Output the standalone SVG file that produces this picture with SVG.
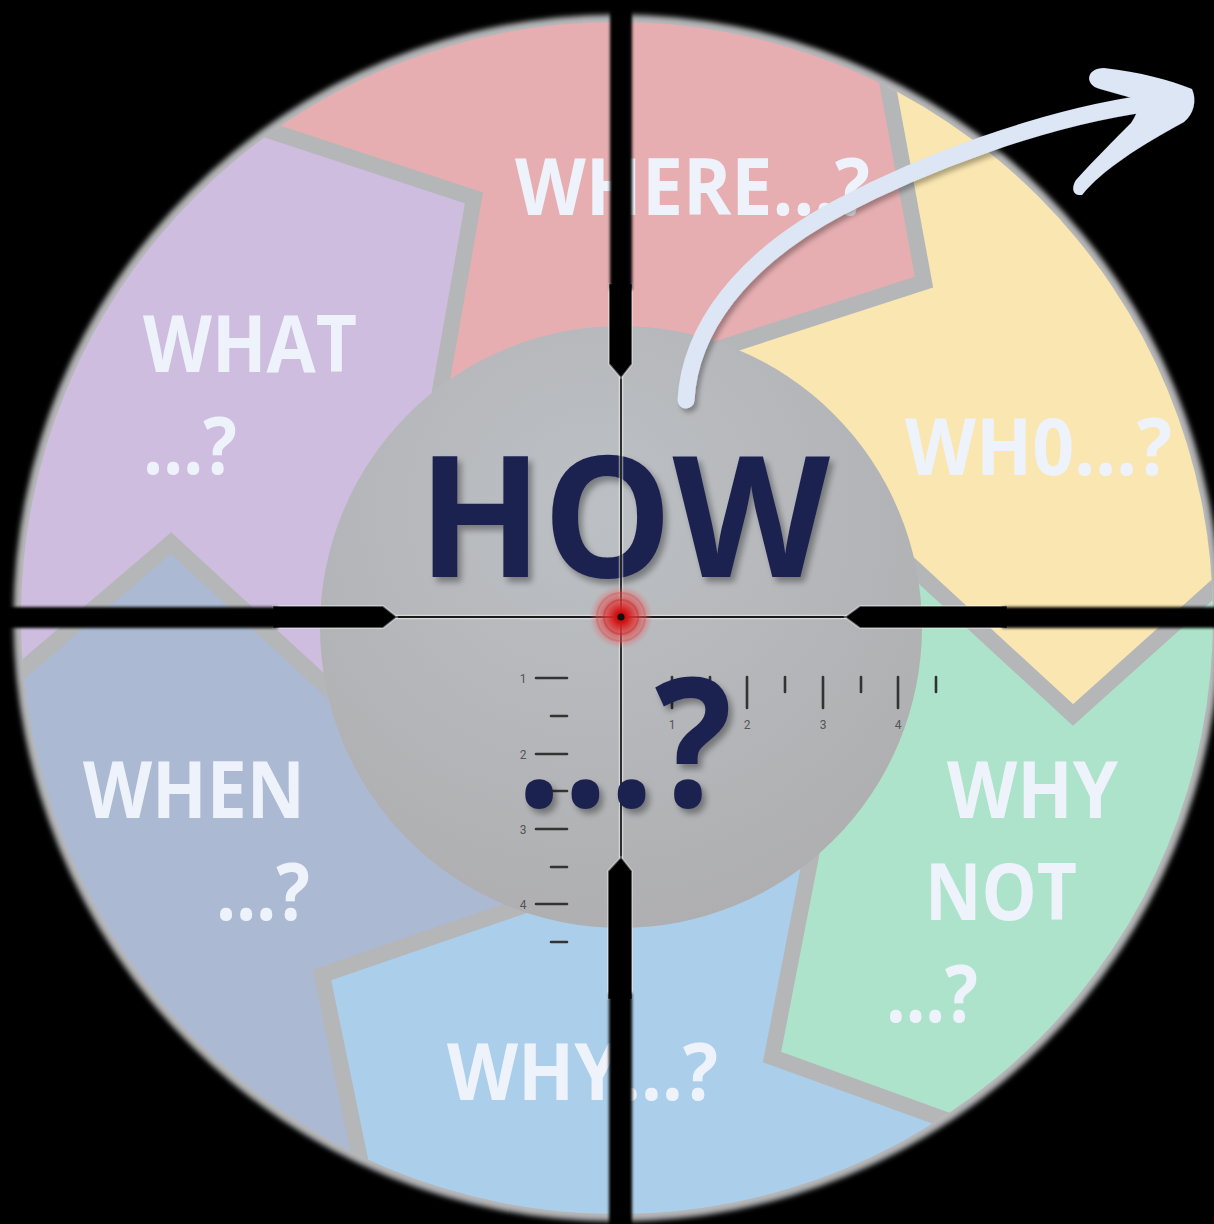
<svg xmlns="http://www.w3.org/2000/svg" width="1214" height="1224" viewBox="0 0 1214 1224">
<defs>
<style>
.seg{stroke:none}
.band{fill:none;stroke:#b5b6b8;stroke-width:16;stroke-linejoin:miter;stroke-miterlimit:10}
.lbl{font-family:"Open Sans","Noto Sans","Liberation Sans",sans-serif;font-weight:700;font-size:78px;fill:#eef3fb}
.big{font-family:"Open Sans","Noto Sans","Liberation Sans",sans-serif;font-weight:700;fill:#1f2350}
.tick{stroke:#333;stroke-width:2.6;stroke-linecap:round}
.tnum{font-family:Roboto,"Liberation Sans",sans-serif;font-size:12px;fill:#555}
.post{fill:#000}
</style>
<clipPath id="disk"><circle cx="617" cy="618" r="596"/></clipPath>
<filter id="soft" x="-10%" y="-10%" width="120%" height="120%"><feGaussianBlur stdDeviation="3"/></filter>
<filter id="blurPost" x="-50%" y="-5%" width="200%" height="110%"><feGaussianBlur stdDeviation="1.8"/></filter>
<filter id="shadow" x="-10%" y="-10%" width="130%" height="130%"><feDropShadow dx="4" dy="5" stdDeviation="3" flood-color="#000" flood-opacity="0.35"/></filter>
<filter id="ashadow" x="-10%" y="-10%" width="130%" height="130%"><feDropShadow dx="3" dy="4" stdDeviation="2.5" flood-color="#000" flood-opacity="0.3"/></filter>
<radialGradient id="hubg" cx="0.45" cy="0.3" r="0.75">
<stop offset="0" stop-color="#bcc0c4"/><stop offset="0.6" stop-color="#b4b5b8"/><stop offset="1" stop-color="#aeaeb0"/>
</radialGradient>
<radialGradient id="redg" cx="0.5" cy="0.5" r="0.5">
<stop offset="0" stop-color="#b80000"/><stop offset="0.2" stop-color="#d01818"/><stop offset="0.45" stop-color="#dd3a3a" stop-opacity="0.8"/><stop offset="0.75" stop-color="#e05a5a" stop-opacity="0.45"/><stop offset="1" stop-color="#e07070" stop-opacity="0"/>
</radialGradient>
</defs>

<rect x="0" y="0" width="1214" height="1224" fill="#000"/>
<circle cx="617" cy="618" r="604" fill="#b7b8ba" filter="url(#soft)"/>

<g clip-path="url(#disk)">
<g id="node-where"><polygon class="seg" fill="#e6aeb1" points="434,425 474,198 -60,22 -60,-60 861,-60 924,282 690,358 621,627"/></g>
<g id="node-who"><polygon class="seg" fill="#f9e6b0" points="690,358 924,282 861,-60 1280,-60 1280,529 1073,715 880,537 621,627"/></g>
<g id="node-whynot"><polygon class="seg" fill="#ade3ca" points="880,537 1073,715 1280,529 1280,1241 772,1057 818,820 621,627"/></g>
<g id="node-why"><polygon class="seg" fill="#abcfea" points="818,820 772,1057 1280,1241 1280,1300 389,1300 322,975 540,900 621,627"/></g>
<g id="node-when"><polygon class="seg" fill="#abb9d2" points="540,900 322,975 389,1300 -60,1300 -60,740 171,543 350,708 621,627"/></g>
<g id="node-what"><polygon class="seg" fill="#cfbde0" points="350,708 171,543 -60,740 -60,22 474,198 434,425 621,627"/></g>
<g id="bands">
<polyline class="band" points="434,425 474,198 -60,22"/>
<polyline class="band" points="690,358 924,282 861,-60"/>
<polyline class="band" points="880,537 1073,715 1280,529"/>
<polyline class="band" points="818,820 772,1057 1280,1241"/>
<polyline class="band" points="540,900 322,975 389,1300"/>
<polyline class="band" points="350,708 171,543 -60,740"/>
</g>
</g>
<circle cx="617" cy="618" r="614" fill="none" stroke="#000" stroke-width="14" filter="url(#soft)"/>

<g id="labels">
<text class="lbl" x="515" y="215" textLength="355" lengthAdjust="spacingAndGlyphs">WHERE…?</text>
<text class="lbl" x="143" y="372" textLength="214" lengthAdjust="spacingAndGlyphs">WHAT</text>
<text class="lbl" x="143" y="474" textLength="94" lengthAdjust="spacingAndGlyphs">…?</text>
<text class="lbl" x="905" y="475" textLength="267" lengthAdjust="spacingAndGlyphs">WH0…?</text>
<text class="lbl" x="947" y="818" textLength="171" lengthAdjust="spacingAndGlyphs">WHY</text>
<text class="lbl" x="925" y="920" textLength="152" lengthAdjust="spacingAndGlyphs">NOT</text>
<text class="lbl" x="886" y="1022" textLength="92" lengthAdjust="spacingAndGlyphs">…?</text>
<text class="lbl" x="83" y="818" textLength="222" lengthAdjust="spacingAndGlyphs">WHEN</text>
<text class="lbl" x="216" y="920" textLength="94" lengthAdjust="spacingAndGlyphs">…?</text>
<text class="lbl" x="447" y="1100" textLength="271" lengthAdjust="spacingAndGlyphs">WHY…?</text>
</g>

<g id="node-how">
<circle cx="621" cy="627" r="301" fill="url(#hubg)"/>
<text class="big" x="418" y="577" font-size="168" textLength="412" lengthAdjust="spacingAndGlyphs" filter="url(#shadow)">HOW</text>
</g>

<g id="reticle">
<g id="scale-v">
<line class="tick" x1="536" y1="678" x2="567" y2="678"/>
<line class="tick" x1="551" y1="716" x2="567" y2="716"/>
<line class="tick" x1="536" y1="754" x2="567" y2="754"/>
<line class="tick" x1="551" y1="791" x2="567" y2="791"/>
<line class="tick" x1="536" y1="829" x2="567" y2="829"/>
<line class="tick" x1="551" y1="867" x2="567" y2="867"/>
<line class="tick" x1="536" y1="904" x2="567" y2="904"/>
<line class="tick" x1="551" y1="942" x2="567" y2="942"/>
<text class="tnum" x="523" y="683" text-anchor="middle">1</text>
<text class="tnum" x="523" y="759" text-anchor="middle">2</text>
<text class="tnum" x="523" y="834" text-anchor="middle">3</text>
<text class="tnum" x="523" y="909" text-anchor="middle">4</text>
</g>
<g id="scale-h">
<line class="tick" x1="672" y1="677" x2="672" y2="708"/>
<line class="tick" x1="710" y1="677" x2="710" y2="692"/>
<line class="tick" x1="747" y1="677" x2="747" y2="708"/>
<line class="tick" x1="785" y1="677" x2="785" y2="692"/>
<line class="tick" x1="823" y1="677" x2="823" y2="708"/>
<line class="tick" x1="861" y1="677" x2="861" y2="692"/>
<line class="tick" x1="898" y1="677" x2="898" y2="708"/>
<line class="tick" x1="936" y1="677" x2="936" y2="692"/>
<text class="tnum" x="672" y="729" text-anchor="middle">1</text>
<text class="tnum" x="747" y="729" text-anchor="middle">2</text>
<text class="tnum" x="823" y="729" text-anchor="middle">3</text>
<text class="tnum" x="898" y="729" text-anchor="middle">4</text>
</g>
<g id="thin-lines">
<line x1="621" y1="376" x2="621" y2="859" stroke="#fff" stroke-opacity="0.45" stroke-width="4.5"/>
<line x1="395" y1="617" x2="847" y2="617" stroke="#fff" stroke-opacity="0.45" stroke-width="4.5"/>
<line x1="621" y1="376" x2="621" y2="859" stroke="#1a1a1a" stroke-width="1.8"/>
<line x1="395" y1="617" x2="847" y2="617" stroke="#1a1a1a" stroke-width="1.8"/>
</g>
<g id="posts-inner" stroke="#fff" stroke-opacity="0.35" stroke-width="2">
<polygon class="post" points="609,284 632,284 632,364 621,378 609,364"/>
<polygon class="post" points="608,999 608,871 621,857 632,871 632,999"/>
<polygon class="post" points="273,606 383,606 397,617 383,628 273,628"/>
<polygon class="post" points="1007,606 860,606 845,617 860,628 1007,628"/>
</g>
<g id="posts-outer" filter="url(#blurPost)">
<rect class="post" x="610" y="-20" width="22" height="310"/>
<rect class="post" x="609" y="993" width="23" height="260"/>
<rect class="post" x="-20" y="607" width="298" height="21"/>
<rect class="post" x="1002" y="607" width="240" height="21"/>
</g>
<g id="center-dot">
<circle cx="621" cy="617" r="32" fill="url(#redg)"/>
<circle cx="621" cy="617" r="24" fill="none" stroke="#d84040" stroke-opacity="0.3" stroke-width="2"/>
<circle cx="621" cy="617" r="17" fill="none" stroke="#c02020" stroke-opacity="0.35" stroke-width="2"/>
<circle cx="621" cy="617" r="3.5" fill="#111"/>
</g>
</g>

<g id="node-how-q">
<text class="big" x="516" y="807" font-size="180" textLength="216" lengthAdjust="spacingAndGlyphs" filter="url(#shadow)">…?</text>
</g>

<g id="connectors" filter="url(#ashadow)">
<path d="M 686 400 C 690 330 740 260 840 207 C 920 165 1040 118 1150 103" fill="none" stroke="#dde6f5" stroke-width="17" stroke-linecap="round"/>
<path d="M 1100 89 C 1084 85 1086 68 1104 68 C 1140 72 1170 80 1192 89 C 1197 100 1194 114 1184 122 C 1140 146 1102 170 1082 195 C 1071 196 1072 186 1076 180 C 1094 160 1114 140 1131 123 C 1136 116 1139 108 1139 100 Z" fill="#dde6f5"/>
</g>
</svg>
